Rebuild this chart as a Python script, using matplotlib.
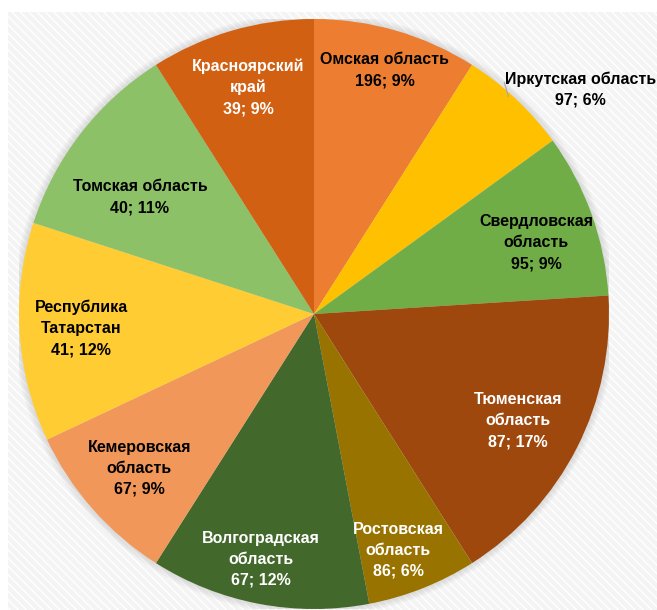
import numpy as np
import matplotlib.pyplot as plt
from matplotlib.patches import Rectangle, Circle

plt.rcParams['font.family'] = ['Liberation Sans Narrow', 'Liberation Sans', 'DejaVu Sans']

regions = ["Омская область", "Иркутская область", "Свердловская\nобласть",
           "Тюменская\nобласть", "Ростовская\nобласть", "Волгоградская\nобласть",
           "Кемеровская\nобласть", "Республика\nТатарстан", "Томская область",
           "Красноярский\nкрай"]
counts = [196, 97, 95, 87, 86, 67, 67, 41, 40, 39]
shares = [9, 6, 9, 17, 6, 12, 9, 12, 11, 9]

colors = ["#ED7D31", "#FFC000", "#70AD47", "#9E480E", "#997300",
          "#43682B", "#F1975A", "#FFCD33", "#8CC168", "#D26012"]
text_colors = ["black", "black", "black", "white", "white",
               "white", "black", "black", "black", "white"]
label_r = [0.86, 1.18, 0.79, 0.78, 0.85, 0.85, 0.79, 0.79, 0.71, 0.80]
label_shift = [0, 6.7, 2, 0.7, 2, 1.4, 0, 0, -4, 0]  # degrees clockwise

W, H = 657, 610
fig = plt.figure(figsize=(W / 100, H / 100), dpi=100)

# light hatched chart background
bg = Rectangle((8 / W, 0), 1 - 8 / W, (H - 12) / H, transform=fig.transFigure,
               facecolor="#F4F4F4", edgecolor="white", hatch="\\\\\\\\", lw=0,
               zorder=-10)
fig.patches.append(bg)

cx, cy, r = 314, 314, 295
ax = fig.add_axes([(cx - r) / W, (H - cy - r) / H, 2 * r / W, 2 * r / H])
ax.set_facecolor("none")
ax.set_zorder(1)

# soft shadow
for k in range(6):
    ax.add_patch(Circle((0, 0), 1.0 + 0.004 * (k + 1), color="#999999",
                        alpha=0.05, lw=0, zorder=0))

wedges, _ = ax.pie(shares, colors=colors, startangle=90, counterclock=False,
                   radius=1.0, wedgeprops=dict(linewidth=0))
ax.set_xlim(-1, 1)
ax.set_ylim(-1, 1)
ax.set_aspect("equal")

for i, w in enumerate(wedges):
    mid = (w.theta1 + w.theta2) / 2 - label_shift[i]
    x = label_r[i] * np.cos(np.radians(mid))
    y = label_r[i] * np.sin(np.radians(mid))
    txt = f"{regions[i]}\n{counts[i]}; {shares[i]}%"
    ax.text(x, y, txt, ha="center", va="center", fontsize=11.5,
            fontweight="bold", color=text_colors[i], linespacing=1.5,
            zorder=5)

# leader line for the outside label
ax.plot([0.645, 0.659], [0.785, 0.737], color="#A6A6A6", lw=0.8, zorder=4,
        clip_on=False)

fig.savefig("out.png", dpi=100)
